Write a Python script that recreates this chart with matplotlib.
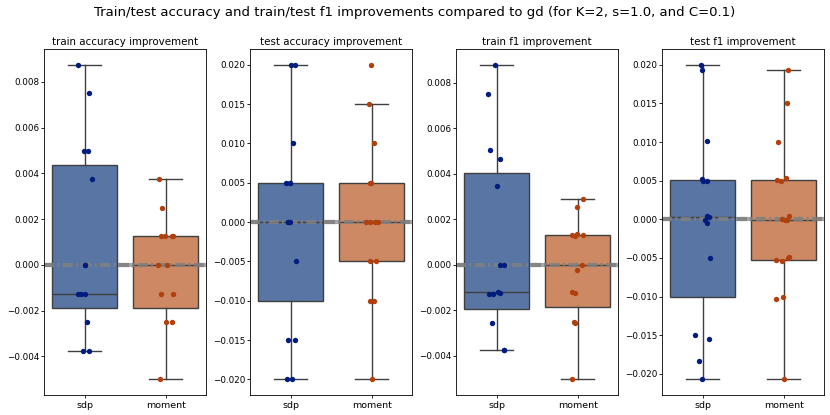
import numpy as np
import seaborn as sns
import matplotlib
matplotlib.use('Agg')
from matplotlib import pyplot as plt

np.random.seed(7)

groups = ['sdp', 'moment']
titles = ['train accuracy improvement', 'test accuracy improvement',
          'train f1 improvement', 'test f1 improvement']
suptitle = 'Train/test accuracy and train/test f1 improvements compared to gd (for K=2, s=1.0, and C=0.1)'

# one point per run
train_acc_sdp = [0.00875, 0.0075, 0.005, 0.005, 0.00375, 0.0, 0.0,
                 -0.00125, -0.00125, -0.00125, -0.0025, -0.00375, -0.00375]
train_acc_moment = [0.00375, 0.0025, 0.00125, 0.00125, 0.00125, 0.00125, 0.0, 0.0,
                    -0.00125, -0.00125, -0.0025, -0.0025, -0.005]
test_acc_sdp = [0.02, 0.02, 0.01, 0.005, 0.005, 0.005, 0.0, 0.0, 0.0,
                -0.005, -0.015, -0.015, -0.02, -0.02]
test_acc_moment = [0.02, 0.015, 0.01, 0.005, 0.005, 0.0, 0.0, 0.0, 0.0,
                   -0.005, -0.005, -0.01, -0.01, -0.02]
train_f1_sdp = [0.00879, 0.0075, 0.00506, 0.00464, 0.00347, 0.0, 0.0,
                -0.00124, -0.0013, -0.00127, -0.00118, -0.00257, -0.00374, -0.00374]
train_f1_moment = [0.00288, 0.00253, 0.0013, 0.0013, 0.00127, 0.00136, 0.0, -0.00023,
                   -0.00121, -0.00124, -0.00257, -0.00253, -0.00503]
test_f1_sdp = [0.02, 0.0193, 0.0101, 0.0049, 0.00496, 0.00526, 0.00043, 0.00034,
               -0.0001, -0.00043, -0.005, -0.015, -0.0155, -0.0183, -0.0207]
test_f1_moment = [0.0193, 0.015, 0.00995, 0.0053, 0.0051, 0.0049, 0.00043, 0.0,
                  -0.00013, -0.00013, -0.0049, -0.005, -0.0052, -0.0054,
                  -0.01, -0.0103, -0.0206]

# box stats: whislo, q1, median, q3, whishi
train_acc_sdp_box = [-0.00375, -0.001875, -0.00125, 0.004375, 0.00875]
train_acc_moment_box = [-0.005, -0.001875, 0.0, 0.00125, 0.00375]
test_acc_sdp_box = [-0.02, -0.01, 0.0, 0.005, 0.02]
test_acc_moment_box = [-0.02, -0.005, 0.0, 0.005, 0.015]
train_f1_sdp_box = [-0.00374, -0.00192, -0.00118, 0.00404, 0.00879]
train_f1_moment_box = [-0.00503, -0.00187, 0.0, 0.0013, 0.00288]
test_f1_sdp_box = [-0.0207, -0.01004, 0.0003, 0.00508, 0.02]
test_f1_moment_box = [-0.0206, -0.0052, -0.0001, 0.00508, 0.0193]

points = [(train_acc_sdp, train_acc_moment), (test_acc_sdp, test_acc_moment),
          (train_f1_sdp, train_f1_moment), (test_f1_sdp, test_f1_moment)]
boxes = [(train_acc_sdp_box, train_acc_moment_box), (test_acc_sdp_box, test_acc_moment_box),
         (train_f1_sdp_box, train_f1_moment_box), (test_f1_sdp_box, test_f1_moment_box)]

box_colors = [sns.desaturate(c, 0.75) for c in sns.color_palette('deep')[:2]]
dot_colors = sns.color_palette('dark')[:2]
edge = '#3f3f3f'

fig, axes = plt.subplots(1, 4, figsize=(8.3, 4.15), dpi=100)
fig.subplots_adjust(left=0.053, right=0.993, bottom=0.048, top=0.882, wspace=0.27)

for ax, title, pts, bx in zip(axes, titles, points, boxes):
    stats = []
    for name, b in zip(groups, bx):
        stats.append(dict(label=name, whislo=b[0], q1=b[1], med=b[2], q3=b[3],
                          whishi=b[4], fliers=[]))
    parts = ax.bxp(stats, positions=[0, 1], widths=0.8, patch_artist=True,
                   showfliers=False,
                   boxprops=dict(edgecolor=edge, linewidth=1),
                   whiskerprops=dict(color=edge, linewidth=1),
                   capprops=dict(color=edge, linewidth=1),
                   medianprops=dict(color=edge, linewidth=1))
    for patch, c in zip(parts['boxes'], box_colors):
        patch.set_facecolor(c)
        patch.set_zorder(2)

    # zero reference line: solid behind the boxes, dash-dot over them
    ax.axhline(0, color='gray', lw=3, alpha=0.7, zorder=1)
    ax.axhline(0, color='gray', lw=3, alpha=0.85, zorder=2.5,
               ls=(0, (2.4, 0.8, 0.5, 0.8)))

    for i, (vals, c) in enumerate(zip(pts, dot_colors)):
        jitter = np.random.uniform(-0.1, 0.1, len(vals))
        ax.scatter(i + jitter, vals, s=15, color=c, zorder=3, linewidths=0)

    ax.set_xlim(-0.5, 1.5)
    ax.set_xticks([0, 1])
    ax.set_xticklabels(groups)
    ax.set_title(title, fontsize=7.4, pad=3)
    ax.tick_params(axis='y', labelsize=6.3, length=2.5, width=0.6, pad=1)
    ax.tick_params(axis='x', labelsize=6.8, length=2.5, width=0.6, pad=2)
    for s in ax.spines.values():
        s.set_linewidth(0.6)

fig.suptitle(suptitle, fontsize=9.5, y=0.985)
fig.savefig('out.png')
